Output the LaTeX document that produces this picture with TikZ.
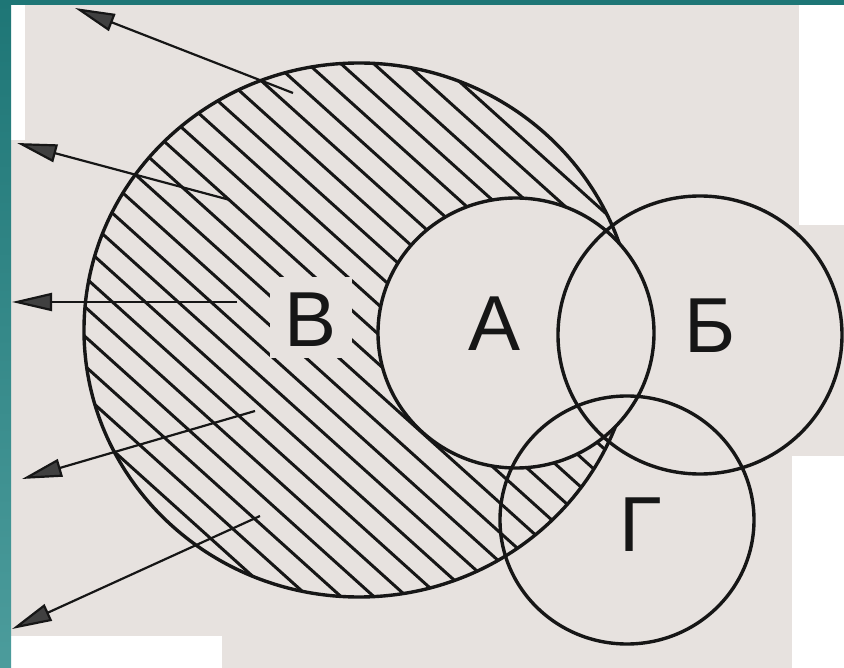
\documentclass[tikz,border=0pt]{standalone}
\usepackage{fontspec}
\setmainfont{Liberation Sans}
\usetikzlibrary{arrows.meta}
\definecolor{paper}{RGB}{231,226,223}
\definecolor{tealA}{RGB}{30,118,118}
\definecolor{tealB}{RGB}{76,156,156}
\definecolor{ink}{RGB}{22,22,22}
\begin{document}
\begin{tikzpicture}[x=1pt,y=-1pt,
  outline/.style={draw=ink, line width=3.4pt},
  hatchline/.style={draw=ink, line width=3pt},
  pointer/.style={draw=ink, line width=2.2pt, -{Triangle[length=40pt,width=18pt,fill=black!75]}},
  letter/.style={font=\fontsize{78}{80}\selectfont, text=ink, inner sep=0pt}]
\useasboundingbox (0,0) rectangle (844,668);
% paper and scan borders
\fill[paper] (0,0) rectangle (844,668);
\fill[white] (11,5) rectangle (25,140);
\fill[white] (799,5) rectangle (844,225);
\fill[white] (792,456) rectangle (844,668);
\fill[white] (11,636) rectangle (222,668);
\shade[top color=tealA,bottom color=tealB] (0,0) rectangle (11,668);
\fill[tealA] (0,0) rectangle (844,5);
% hatching of V
\begin{scope}
  \clip (359,330) ellipse [x radius=275pt, y radius=267pt];
  \foreach \k in {-2,...,23}{
    \pgfmathsetmacro\cc{-237.2+22*\k}
    \draw[hatchline] ({\cc*0.6691+100*0.7431},{-\cc*0.7431+100*0.6691}) -- ({\cc*0.6691+900*0.7431},{-\cc*0.7431+900*0.6691});
  }
\end{scope}
\draw[outline] (359,330) ellipse [x radius=275pt, y radius=267pt];
\fill[paper] (516,333) ellipse [x radius=138pt, y radius=135pt];
\fill[paper] (270,277) rectangle (352,358);
% circles
\draw[outline] (516,333) ellipse [x radius=138pt, y radius=135pt];
\draw[outline] (700,335) ellipse [x radius=142pt, y radius=139pt];
\draw[outline] (627,520) ellipse [x radius=127pt, y radius=124pt];
% labels
\node[letter] (lV) at (311,319.5) {В};
\node[letter] (lA) at (495,323.5) {А};
\node[letter] (lB) at (710.5,326) {Б};
\node[letter] (lG) at (641,525) {Г};
% arrows
\coordinate (s1) at (293,93);  \coordinate (e1) at (75,8);
\coordinate (s2) at (230,200); \coordinate (e2) at (17,143);
\coordinate (s3) at (237,302); \coordinate (e3) at (12,302);
\coordinate (s4) at (255,411); \coordinate (e4) at (22,479);
\coordinate (s5) at (260,516); \coordinate (e5) at (12,629);
\draw[pointer] (s1) -- (e1);
\draw[pointer] (s2) -- (e2);
\draw[pointer] (s3) -- (e3);
\draw[pointer] (s4) -- (e4);
\draw[pointer] (s5) -- (e5);
\end{tikzpicture}
\end{document}
